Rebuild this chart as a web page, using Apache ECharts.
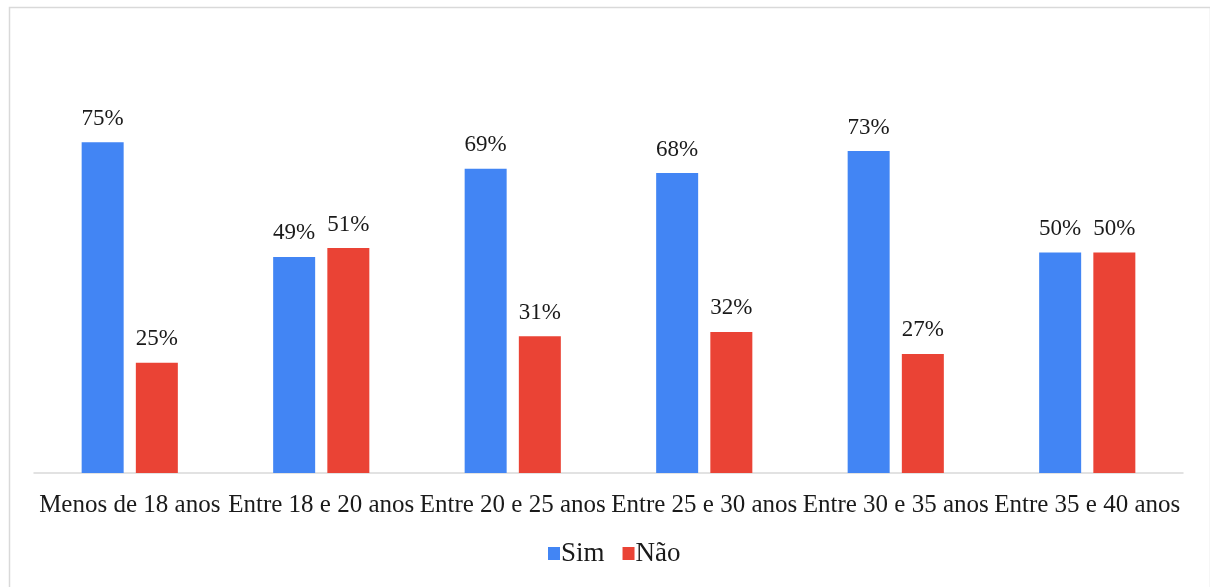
<!DOCTYPE html>
<html>
<head>
<meta charset="utf-8">
<script src="https://cdn.jsdelivr.net/npm/echarts@6/dist/echarts.min.js"></script>
<style>
  html, body { margin: 0; padding: 0; background: #fff; }
  #chart { width: 1210px; height: 587px; }
</style>
</head>
<body>
<div id="chart"></div>
<script>
// Age groups and the share of answers per group (percent)
const categories = ['Menos de 18 anos', 'Entre 18 e 20 anos', 'Entre 20 e 25 anos', 'Entre 25 e 30 anos', 'Entre 30 e 35 anos', 'Entre 35 e 40 anos'];
const simValues = [75, 49, 69, 68, 73, 50];
const naoValues = [25, 51, 31, 32, 27, 50];
const seriesNames = ['Sim', 'Não'];

const FONT = '"Liberation Serif", "Times New Roman", serif';
const TEXT = '#1a1a1a';

const chart = echarts.init(document.getElementById('chart'), null, { renderer: 'canvas' });

const labelStyle = {
  show: true,
  position: 'top',
  distance: 12,
  formatter: p => p.value + '%',
  fontFamily: FONT,
  fontSize: 23,
  color: TEXT
};

chart.setOption({
  animation: false,
  backgroundColor: '#fff',
  graphic: [{
    type: 'rect',
    left: 7, top: 5,
    shape: { width: 1201, height: 600 },
    style: { fill: 'none', stroke: '#d9d9d9', lineWidth: 1.5 },
    silent: true
  }],
  grid: { left: 34, right: 27, top: 32, bottom: 114 },
  legend: {
    data: seriesNames,
    bottom: 15,
    left: 543,
    icon: 'rect',
    itemWidth: 12,
    itemHeight: 13,
    itemGap: 18,
    textStyle: { fontFamily: FONT, fontSize: 27, color: TEXT, padding: [0, 0, 0, -4] }
  },
  xAxis: {
    type: 'category',
    data: categories,
    axisLine: { lineStyle: { color: '#d9d9d9', width: 1.5 } },
    axisTick: { show: false },
    axisLabel: { interval: 0, margin: 20, fontFamily: FONT, fontSize: 25, color: TEXT }
  },
  yAxis: {
    type: 'value',
    min: 0,
    max: 100,
    show: false,
    splitLine: { show: false }
  },
  series: [
    {
      name: seriesNames[0], type: 'bar', data: simValues,
      barWidth: 42, barGap: '29%',
      itemStyle: { color: '#4285f4' },
      label: labelStyle
    },
    {
      name: seriesNames[1], type: 'bar', data: naoValues,
      barWidth: 42,
      itemStyle: { color: '#ea4335' },
      label: labelStyle
    }
  ]
});
</script>
</body>
</html>
